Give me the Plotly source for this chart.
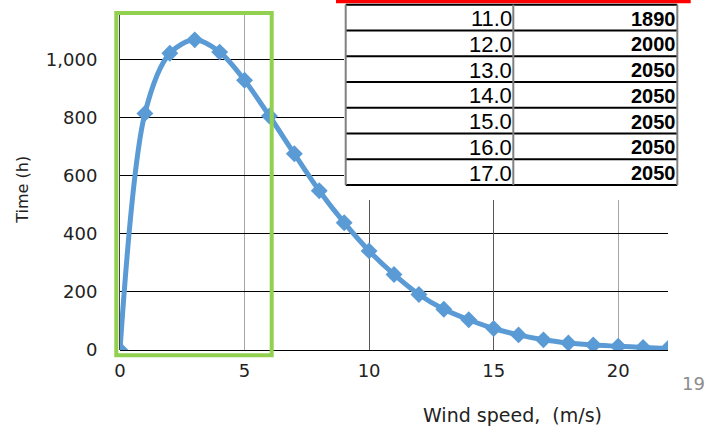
import plotly.graph_objects as go

# ---- data ----
wind_speed = list(range(0, 23))
hours = [0, 814, 1021, 1067, 1025, 928, 805, 675, 548, 438, 341, 260, 191,
         140, 104, 74, 52, 35, 24, 17, 13, 9, 5]

table_speed = ["11.0", "12.0", "13.0", "14.0", "15.0", "16.0", "17.0"]
table_power = ["1890", "2000", "2050", "2050", "2050", "2050", "2050"]

y_ticks = [0, 200, 400, 600, 800, 1000]
x_ticks = [0, 5, 10, 15, 20]
x_dark_ticks = [10, 15]

W, H = 709, 428
ML, MR, MT, MB = 120, 41, 14, 78
PW, PH = W - ML - MR, H - MT - MB


def px(X):
    return (X - ML) / PW


def py(Y):
    return (H - MB - Y) / PH


fig = go.Figure()
fig.add_trace(go.Scatter(
    x=wind_speed, y=hours, mode="lines+markers",
    line=dict(color="#5b9bd5", width=5, shape="spline", smoothing=0.9),
    marker=dict(symbol="diamond", size=13, color="#5b9bd5"),
    showlegend=False, hoverinfo="skip",
))
fig.add_trace(go.Scatter(x=[None], y=[None], xaxis="x2", yaxis="y",
                         showlegend=False, hoverinfo="skip"))

tickfont = dict(family="DejaVu Sans", size=18, color="#222222")

fig.update_layout(
    width=W, height=H,
    margin=dict(l=ML, r=MR, t=MT, b=MB),
    paper_bgcolor="white", plot_bgcolor="white",
    xaxis=dict(range=[0, 22], tickvals=x_ticks, showgrid=True,
               gridcolor="#a6a6a6", gridwidth=1, zeroline=False,
               showline=False, ticks="", tickfont=tickfont,
               ticklabelstandoff=8),
    xaxis2=dict(range=[0, 22], overlaying="x", tickvals=x_dark_ticks,
                showticklabels=False, showgrid=True, gridcolor="#595959",
                gridwidth=1, zeroline=False, showline=False, ticks=""),
    yaxis=dict(range=[0, 1156], tickvals=y_ticks, tickformat=",d",
               showgrid=True, gridcolor="#000000", gridwidth=1,
               zeroline=True, zerolinecolor="#000000", zerolinewidth=1,
               showline=True, linecolor="#404040", linewidth=1,
               ticks="", tickfont=tickfont, ticklabelstandoff=18),
)

shapes = []
annotations = []

# table background and header bar
shapes.append(dict(type="rect", xref="paper", yref="paper", layer="above",
                   x0=px(344), x1=px(691), y0=py(200), y1=py(3.3),
                   fillcolor="white", line=dict(width=0)))
shapes.append(dict(type="rect", xref="paper", yref="paper", layer="above",
                   x0=px(336), x1=px(690.7), y0=py(3.3), y1=py(0),
                   fillcolor="#ff0000", line=dict(width=0)))

row_top = 4.7
row_h = 25.76
n = len(table_speed)
left_x, mid_x, right_x = 345.7, 513.3, 677.3
for i in range(n + 1):
    yy = row_top + i * row_h
    shapes.append(dict(type="line", xref="paper", yref="paper", layer="above",
                       x0=px(left_x), x1=px(right_x), y0=py(yy), y1=py(yy),
                       line=dict(color="#000000", width=2)))
for xx in (left_x, mid_x, right_x):
    shapes.append(dict(type="line", xref="paper", yref="paper", layer="above",
                       x0=px(xx), x1=px(xx), y0=py(row_top),
                       y1=py(row_top + n * row_h),
                       line=dict(color="#808080", width=2)))

for i, (s, p) in enumerate(zip(table_speed, table_power)):
    yc = row_top + (i + 0.5) * row_h + 1
    annotations.append(dict(xref="paper", yref="paper", x=px(514), y=py(yc),
                            xanchor="right", yanchor="middle", showarrow=False,
                            text=s, font=dict(family="Liberation Sans", size=22,
                                              color="#000000")))
    annotations.append(dict(xref="paper", yref="paper", x=px(678), y=py(yc),
                            xanchor="right", yanchor="middle", showarrow=False,
                            text="<b>" + p + "</b>",
                            font=dict(family="Liberation Sans", size=20,
                                      color="#000000")))

# green highlight rectangle
shapes.append(dict(type="rect", xref="paper", yref="paper", layer="above",
                   x0=px(116.3), x1=px(271.7), y0=py(355.3), y1=py(13),
                   fillcolor="rgba(0,0,0,0)", line=dict(color="#92d050", width=4)))

# axis titles and page number
annotations.append(dict(xref="paper", yref="paper", x=px(21.7), y=py(190),
                        xanchor="center", yanchor="middle", showarrow=False,
                        textangle=-90, text="Time (h)",
                        font=dict(family="DejaVu Sans", size=16, color="#222222")))
annotations.append(dict(xref="paper", yref="paper", x=px(512.5), y=py(415),
                        xanchor="center", yanchor="middle", showarrow=False,
                        text="Wind speed,\u00a0 (m/s)",
                        font=dict(family="DejaVu Sans", size=19, color="#222222")))
annotations.append(dict(xref="paper", yref="paper", x=px(693), y=py(383),
                        xanchor="center", yanchor="middle", showarrow=False,
                        text="19",
                        font=dict(family="DejaVu Sans", size=18, color="#8c8c8c")))

fig.update_layout(shapes=shapes, annotations=annotations)
fig.write_html("out.html")
